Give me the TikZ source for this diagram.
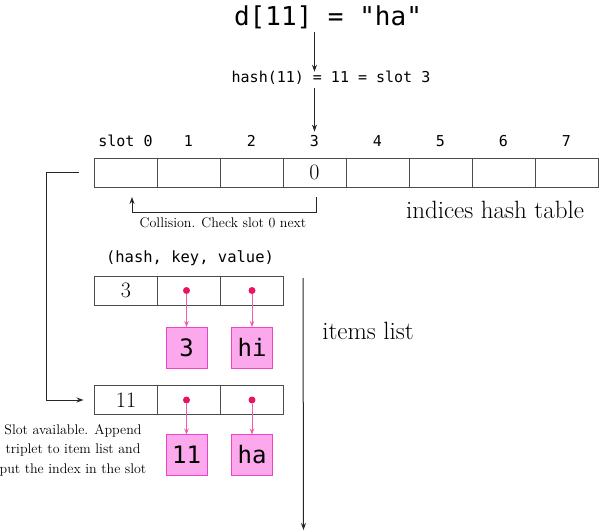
\documentclass[tikz,border=0pt]{standalone}
\usepackage{fontspec}
\setmonofont{DejaVu Sans Mono}
\usepackage{tikz}
\usetikzlibrary{arrows.meta,positioning}
\definecolor{pinkfill}{HTML}{FBA8EC}
\definecolor{pinkedge}{HTML}{EE44C8}
\definecolor{pinkdot}{HTML}{E8145C}
\definecolor{pinkline}{HTML}{F25AAE}

\begin{document}
\begin{tikzpicture}[
  x=1pt, y=-1pt,
  cell/.style={rectangle, draw=black!70, line width=0.8pt, outer sep=0pt, inner sep=0pt, minimum width=63pt, minimum height=29pt, font=\fontsize{22}{24}\selectfont},
  valbox/.style={rectangle, draw=pinkedge, fill=pinkfill, line width=0.8pt, outer sep=0pt, inner sep=0pt, minimum size=41pt, font=\ttfamily\fontsize{24}{28}\selectfont},
  code/.style={font=\ttfamily\fontsize{15}{18}\selectfont},
  note/.style={font=\fontsize{14}{19.5}\selectfont, align=center},
  caption/.style={font=\fontsize{25}{28}\selectfont},
  arr/.style={-{Stealth[length=7pt, width=5pt]}, line width=0.9pt, draw=black!85},
  ptr/.style={-{Stealth[length=6pt, width=4.5pt]}, line width=0.8pt, draw=pinkline},
  dot/.style={circle, fill=pinkdot, inner sep=0pt, minimum size=7pt}
]
  \useasboundingbox (0,0) rectangle (600,532);

  \node[font=\ttfamily\fontsize{26}{30}\selectfont] (assign) at (328,17) {d[11] = "ha"};
  \node[code] (hash) at (331,78) {hash(11) = 11 = slot 3};

  % indices table
  \foreach \i/\v in {0/{},1/{},2/{},3/0,4/{},5/{},6/{},7/{}}
    \node[cell] (idx\i) at ({125.5+63*\i},172.5) {\v};
  \node[code, above=8pt of idx0] (lab0) {slot 0};
  \foreach \i in {1,...,7}
    \node[code, above=8pt of idx\i] (lab\i) {\i};

  \draw[arr] (assign.south -| lab3) -- ([yshift=-4pt]hash.north -| lab3);
  \draw[arr] (hash.south -| lab3) -- (lab3.north);

  \draw[arr] ([xshift=1.5pt, yshift=-10pt]idx3.south) -- ++(0,15) -| ([xshift=6.5pt, yshift=-10pt]idx0.south);
  \node[note] (collide) at (223,223) {Collision. Check slot 0 next};
  \node[caption] (idxname) at (495,210) {indices hash table};

  % items list
  \node[code, font=\ttfamily\fontsize{15.5}{18}\selectfont] (triplet) at (190,258) {(hash, key, value)};
  \node[cell] (hk1) at (126,290.5) {3};
  \node[cell, right=0pt of hk1] (key1) {};
  \node[cell, right=0pt of key1] (val1) {};
  \node[valbox, below=22pt of key1, xshift=-2.5pt] (kv1) {3};
  \node[valbox, below=22pt of val1] (vv1) {hi};
  \node[dot, xshift=-2.5pt] (kd1) at (key1) {};
  \node[dot] (vd1) at (val1) {};
  \draw[ptr] (kd1) -- (kv1);
  \draw[ptr] (vd1) -- (vv1);

  \node[cell] (hk2) at (126,400) {11};
  \node[cell, right=0pt of hk2] (key2) {};
  \node[cell, right=0pt of key2] (val2) {};
  \node[valbox, below=20pt of key2, xshift=-2.5pt] (kv2) {11};
  \node[valbox, below=20pt of val2] (vv2) {ha};
  \node[dot, xshift=-2.5pt] (kd2) at (key2) {};
  \node[dot] (vd2) at (val2) {};
  \draw[ptr] (kd2) -- (kv2);
  \draw[ptr] (vd2) -- (vv2);

  \coordinate (listend) at (303.5,530);
  \draw[arr, line width=1pt] ([xshift=19.5pt, yshift=-2pt]val1.north east) -- (listend);
  \node[caption] (itemname) at (368,331) {items list};

  \draw[arr] ([xshift=-15pt]idx0.west) -- ++(-33,0) |- ([xshift=-11pt]hk2.west);
  \node[note] (avail) at (73,450) {Slot available. Append\\triplet to item list and\\put the index in the slot};
\end{tikzpicture}
\end{document}
